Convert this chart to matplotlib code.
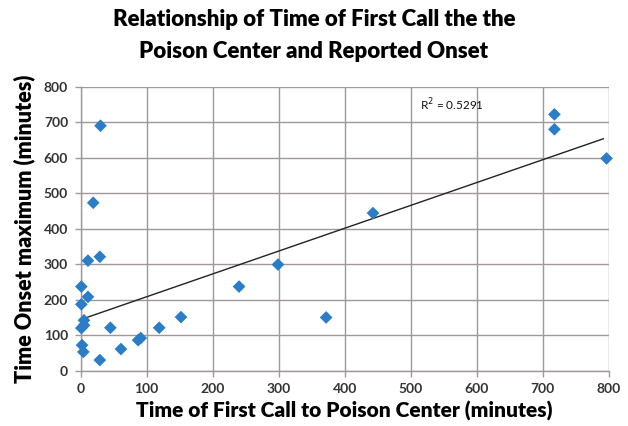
import numpy as np
import matplotlib
matplotlib.use("Agg")
import matplotlib.pyplot as plt

call_time = [30, 19, 11, 29, 1, 11, 1, 5, 5, 1, 2, 4, 29, 45, 61, 87, 91, 119, 152, 240, 299, 372, 443, 718, 718, 797]
onset_max = [690, 473, 310, 321, 237, 208, 187, 142, 128, 120, 72, 53, 30, 121, 61, 86, 92, 121, 151, 237, 299, 150, 444, 722, 680, 598]
trend_intercept = 144
trend_slope = 0.643
r2_label = "R$^2$ = 0.5291"
ticks = [0, 100, 200, 300, 400, 500, 600, 700, 800]

x = np.array(call_time, dtype=float)
y = np.array(onset_max, dtype=float)

fig = plt.figure(figsize=(6.28, 4.26), dpi=100)
ax = fig.add_axes([0.1285, 0.1298, 0.969 - 0.1285, 0.7965 - 0.1298])

grid_c = "#a0979a"
ax.set_xlim(0, 800)
ax.set_ylim(0, 800)
ax.set_xticks(ticks)
ax.set_yticks(ticks)
ax.grid(True, color=grid_c, linewidth=1.0)
ax.set_axisbelow(True)
for s in ["top", "right"]:
    ax.spines[s].set_visible(False)
for s in ["left", "bottom"]:
    ax.spines[s].set_color(grid_c)
    ax.spines[s].set_linewidth(1.0)
ax.tick_params(axis="both", direction="out", length=4, color=grid_c, width=1.0,
               labelsize=10, labelcolor="#333333", pad=5)
for lbl in ax.get_xticklabels() + ax.get_yticklabels():
    lbl.set_fontweight("bold")
    lbl.set_family("Lato")

xs = np.linspace(0, 792, 100)
ax.plot(xs, trend_slope * xs + trend_intercept, color="#222222", linewidth=1.0, zorder=2)
ax.scatter(x, y, marker="D", s=42, color="#2a7dc6", edgecolors="none", zorder=3, clip_on=False)

ax.text(515, 750, r2_label, fontsize=8.5, family="Lato", va="center", ha="left", color="#111111")

fig.suptitle("Relationship of Time of First Call the the\nPoison Center and Reported Onset",
             fontsize=16, fontweight="heavy", family="Lato", y=0.978, va="top", linespacing=1.6)
ax.set_xlabel("Time of First Call to Poison Center (minutes)", fontsize=15, fontweight="heavy",
              family="Lato", labelpad=4)
ax.set_ylabel("Time Onset maximum (minutes)", fontsize=15.5, fontweight="heavy",
              family="Lato", labelpad=6)

fig.savefig("out.png", dpi=100)
